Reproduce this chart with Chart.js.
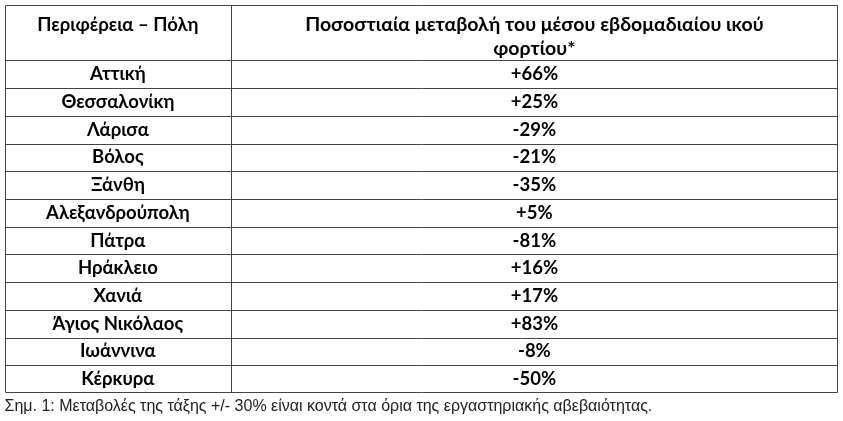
<!DOCTYPE html>
<html><head><meta charset="utf-8">
<script src="https://cdn.jsdelivr.net/npm/chart.js@4/dist/chart.umd.min.js"></script>
<style>html,body{margin:0;padding:0;background:#fff}</style>
</head><body>
<canvas id="c" width="843" height="421"></canvas>
<script>
const headers = ["Περιφέρεια – Πόλη", ["Ποσοστιαία μεταβολή του μέσου εβδομαδιαίου ικού", "φορτίου*"]];
const cities = ["Αττική","Θεσσαλονίκη","Λάρισα","Βόλος","Ξάνθη","Αλεξανδρούπολη","Πάτρα","Ηράκλειο","Χανιά","Άγιος Νικόλαος","Ιωάννινα","Κέρκυρα"];
const changes = ["+66%","+25%","-29%","-21%","-35%","+5%","-81%","+16%","+17%","+83%","-8%","-50%"];
const note = "Σημ. 1: Μεταβολές της τάξης +/- 30% είναι κοντά στα όρια της εργαστηριακής αβεβαιότητας.";
const colSplit = 0.271;
const headerUnits = 2;

const tablePlugin = {
  id: 'table',
  afterDraw(chart) {
    const {ctx, scales:{x, y}} = chart;
    const total = headerUnits + cities.length;
    ctx.save();
    ctx.strokeStyle = '#444'; ctx.lineWidth = 1;
    const L = Math.round(x.getPixelForValue(0))+0.5, R = Math.round(x.getPixelForValue(1))-0.5;
    const M = Math.round(x.getPixelForValue(colSplit))+0.5;
    const T = Math.round(y.getPixelForValue(0))+0.5, B = Math.round(y.getPixelForValue(total))-0.5;
    ctx.beginPath();
    ctx.rect(L, T, R-L, B-T);
    ctx.moveTo(M, T); ctx.lineTo(M, B);
    for (let i = 0; i < cities.length; i++) {
      const yy = Math.round(y.getPixelForValue(headerUnits + i)) + 0.5;
      ctx.moveTo(L, yy); ctx.lineTo(R, yy);
    }
    ctx.stroke();
    const c1 = x.getPixelForValue(colSplit/2), c2 = x.getPixelForValue((colSplit+1)/2);
    ctx.fillStyle = '#000'; ctx.textAlign = 'center'; ctx.textBaseline = 'middle';
    ctx.font = 'bold 18.5px Lato, "Open Sans", sans-serif';
    const ht = y.getPixelForValue(0);
    ctx.fillText(headers[0], c1, ht + 20);
    ctx.font = 'bold 19.5px Lato, "Open Sans", sans-serif';
    headers[1].forEach((t, k) => ctx.fillText(t, c2, ht + 20 + k*24));
    ctx.font = 'bold 18.5px Lato, "Open Sans", sans-serif';
    cities.forEach((cname, i) => {
      const yc = y.getPixelForValue(headerUnits + i + 0.5);
      ctx.fillText(cname, c1, yc);
      ctx.fillText(changes[i], c2, yc);
    });
    ctx.textAlign = 'left'; ctx.font = '16px "Liberation Sans", Arial, sans-serif'; ctx.fillStyle = '#222';
    ctx.fillText(note, L - 1, B + 14);
    ctx.restore();
  }
};

new Chart(document.getElementById('c'), {
  type: 'scatter',
  data: { datasets: [] },
  options: {
    responsive: false, animation: false,
    layout: { padding: { left: 5, right: 5, top: 5, bottom: 28 } },
    plugins: { legend: { display: false }, tooltip: { enabled: false } },
    scales: {
      x: { type: 'linear', min: 0, max: 1, display: false },
      y: { type: 'linear', min: 0, max: headerUnits + cities.length, reverse: true, display: false }
    }
  },
  plugins: [tablePlugin]
});
</script>
</body></html>
